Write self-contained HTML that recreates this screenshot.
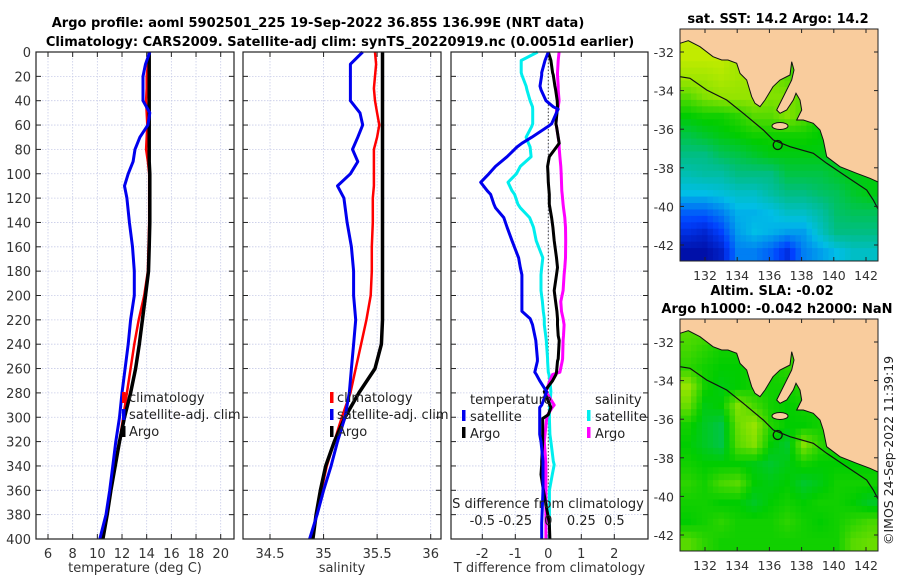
<!DOCTYPE html>
<html><head><meta charset="utf-8"><style>
body{margin:0;background:#fff;width:900px;height:580px;overflow:hidden;font-family:"DejaVu Sans","Liberation Sans",sans-serif}
svg text{font-family:"DejaVu Sans","Liberation Sans",sans-serif}
</style></head><body>
<svg id="fig" width="900" height="580" xmlns="http://www.w3.org/2000/svg">
<text x="318" y="27" text-anchor="middle" font-size="13" font-weight="bold">Argo profile: aoml 5902501_225 19-Sep-2022 36.85S 136.99E (NRT data)</text>
<text x="340" y="46" text-anchor="middle" font-size="13" font-weight="bold">Climatology: CARS2009. Satellite-adj clim: synTS_20220919.nc (0.0051d earlier)</text>
<text x="778" y="23" text-anchor="middle" font-size="13" font-weight="bold">sat. SST: 14.2 Argo: 14.2</text>
<text x="772" y="295" text-anchor="middle" font-size="13" font-weight="bold">Altim. SLA: -0.02</text>
<text x="777" y="313" text-anchor="middle" font-size="13" font-weight="bold">Argo h1000: -0.042 h2000: NaN</text>
<text transform="translate(893,545) rotate(-90)" font-size="12.5" fill="#222">©IMOS 24-Sep-2022 11:39:19</text>
</svg>
<script>
const depths=[0,10,20,30,40,50,60,70,80,90,100,110,120,140,160,180,200,220,240,260,280,300,320,340,360,380,400];
const tArgo=[14.2,14.2,14.2,14.2,14.2,14.2,14.2,14.2,14.2,14.2,14.25,14.25,14.25,14.25,14.2,14.15,13.9,13.65,13.4,13.1,12.7,12.2,11.8,11.45,11.1,10.8,10.45];
const tClim=[14.2,14.1,14.0,14.0,13.95,14.0,14.05,14.0,13.95,14.1,14.2,14.2,14.2,14.2,14.15,14.1,13.8,13.35,13.0,12.7,12.4,12.1,11.8,11.45,11.1,10.8,10.4];
const tSat=[14.25,13.9,13.7,13.7,13.7,14.25,14.1,13.45,13.05,12.9,12.5,12.2,12.4,12.6,12.85,13.0,13.0,12.7,12.5,12.25,12.0,11.8,11.5,11.25,11.0,10.7,10.2];
const sArgo=[35.55,35.55,35.55,35.55,35.55,35.55,35.55,35.55,35.55,35.55,35.55,35.55,35.55,35.55,35.55,35.55,35.55,35.55,35.54,35.48,35.33,35.2,35.1,35.02,34.97,34.93,34.9];
const sClim=[35.48,35.49,35.48,35.47,35.48,35.5,35.52,35.5,35.47,35.47,35.47,35.47,35.46,35.46,35.45,35.45,35.44,35.4,35.35,35.3,35.25,35.17,35.1,35.03,34.98,34.93,34.9];
const sSat=[35.365,35.25,35.25,35.25,35.25,35.34,35.365,35.32,35.27,35.32,35.25,35.13,35.19,35.22,35.26,35.28,35.28,35.3,35.28,35.26,35.24,35.2,35.13,35.07,35.0,34.94,34.87];
const dDepths=[0,7,17,19,28,31,40,45,47,48,59,61,70,75,78,86,94,100,107,114,117,125,128,136,144,155,169,177,183,196,205,213,219,224,233,237,252,254,263,265,270,279,290,292,298,301,314,320,336,339,347,360,387,400];
const dTSat=[0.0,-0.1,-0.2,-0.2,-0.25,-0.22,-0.07,0.15,0.3,0.28,0.1,0.0,-0.5,-0.8,-0.95,-1.25,-1.6,-1.8,-2.05,-1.85,-1.75,-1.65,-1.6,-1.35,-1.25,-1.1,-0.9,-0.85,-0.8,-0.8,-0.8,-0.8,-0.55,-0.48,-0.41,-0.38,-0.33,-0.33,-0.41,-0.36,-0.26,-0.05,-0.2,-0.26,-0.26,-0.26,-0.26,-0.22,-0.16,-0.16,-0.16,-0.16,-0.2,-0.2];
// salinity differences (psu)
const dSSat=[-0.08,-0.205,-0.205,-0.2,-0.168,-0.162,-0.138,-0.12,-0.118,-0.118,-0.118,-0.125,-0.168,-0.15,-0.138,-0.13,-0.212,-0.242,-0.305,-0.275,-0.255,-0.23,-0.212,-0.142,-0.112,-0.092,-0.042,-0.05,-0.055,-0.055,-0.045,-0.038,-0.03,-0.03,-0.02,-0.015,-0.005,-0.005,0.0,0.005,0.012,0.02,0.012,0.01,0.008,0.008,0.012,0.02,0.038,0.045,0.03,0.008,0.008,0.008];
const dTArgo=[0.0,0.08,0.13,0.15,0.2,0.22,0.27,0.28,0.28,0.27,0.23,0.25,0.3,0.33,0.25,0.03,-0.02,-0.01,0.0,0.02,0.03,0.03,0.05,0.1,0.14,0.18,0.25,0.28,0.25,0.18,0.22,0.26,0.28,0.28,0.3,0.33,0.3,0.28,0.25,0.23,0.13,-0.12,0.05,0.08,0.0,-0.17,-0.17,-0.17,-0.2,-0.2,-0.22,-0.15,0.03,0.05];
const dSArgo=[0.082,0.075,0.07,0.07,0.075,0.075,0.082,0.075,0.065,0.062,0.058,0.062,0.075,0.082,0.082,0.088,0.095,0.098,0.1,0.102,0.105,0.112,0.115,0.125,0.13,0.132,0.13,0.125,0.12,0.112,0.095,0.1,0.112,0.12,0.115,0.112,0.108,0.105,0.088,0.032,0.012,-0.018,0.045,0.03,-0.005,-0.012,-0.025,-0.03,-0.02,-0.018,-0.018,-0.018,-0.018,-0.018];
const tTicks=[6,8,10,12,14,16,18,20];
const sTicks=[34.5,35,35.5,36];
const dTicks=[-2,-1,0,1,2];
const dSTicks=[-0.5,-0.25,0,0.25,0.5];
const depthTicks=[0,20,40,60,80,100,120,140,160,180,200,220,240,260,280,300,320,340,360,380,400];
const lonTicks=[132,134,136,138,140,142];
const latTicks=[-32,-34,-36,-38,-40,-42];
const sstGrid=[
[.95,.95,.9,.9,.85,.8,.8,.8,.8,.8,.8,.8],
[.95,.95,.95,.9,.85,.8,.75,.8,.8,.8,.8,.8],
[.9,.9,.92,.9,.88,.85,.8,.75,.75,.8,.8,.8],
[.8,.85,.88,.88,.88,.85,.85,.8,.75,.75,.75,.75],
[.7,.72,.72,.75,.8,.8,.85,.8,.72,.72,.72,.72],
[.62,.65,.68,.7,.72,.72,.72,.72,.7,.7,.7,.7],
[.55,.55,.6,.62,.65,.68,.68,.68,.68,.68,.7,.7],
[.48,.5,.5,.55,.55,.55,.62,.62,.62,.65,.68,.68],
[.4,.4,.42,.45,.45,.5,.55,.55,.58,.6,.65,.68],
[.25,.25,.3,.38,.38,.4,.45,.45,.5,.58,.6,.6],
[.15,.12,.2,.35,.4,.38,.35,.35,.45,.55,.55,.55],
[.05,.05,.1,.3,.3,.25,.15,.3,.35,.4,.45,.45]];
const slaGrid=[
[.8,.8,.78,.75,.75,.75,.75,.75,.75,.75,.75,.75],
[.78,.75,.72,.72,.72,.75,.75,.78,.78,.75,.75,.75],
[.75,.72,.7,.7,.72,.72,.75,.78,.8,.78,.75,.75],
[.88,.72,.68,.7,.72,.72,.72,.75,.75,.75,.75,.75],
[.82,.68,.7,.85,.78,.72,.7,.72,.72,.72,.72,.72],
[.72,.66,.62,.82,.88,.74,.7,.7,.72,.72,.72,.72],
[.7,.66,.62,.8,.85,.7,.65,.85,.75,.72,.72,.72],
[.72,.7,.7,.7,.68,.65,.68,.72,.7,.7,.7,.7],
[.75,.72,.78,.8,.7,.68,.7,.65,.68,.72,.72,.72],
[.72,.72,.7,.7,.66,.7,.72,.7,.72,.72,.7,.66],
[.7,.72,.75,.72,.72,.72,.75,.72,.7,.72,.75,.78],
[.8,.75,.72,.72,.72,.72,.72,.72,.72,.72,.8,.82]];

const NS='http://www.w3.org/2000/svg';
const svg=document.getElementById('fig');
function mk(tag,attrs,parent){const e=document.createElementNS(NS,tag);for(const k in attrs)e.setAttribute(k,attrs[k]);(parent||svg).appendChild(e);return e;}
const Y0=52,Y1=539;
const yD=d=>Y0+(d/400)*(Y1-Y0);
function lin(d0,d1,r0,r1){return v=>r0+(v-d0)/(d1-d0)*(r1-r0);}
const xT=lin(6,20,48,220.7), xS=lin(34.5,36,270,430.7), xD=lin(-2,2,482.3,614.3);
const xDS=v=>xD(v*4);

function panel(name,x0,x1,ticks,xf,fmt,xlabel){
  const g=mk('g',{});
  
  
  depthTicks.forEach(d=>{const l=mk('line',{x1:x0,x2:x1,y1:yD(d),y2:yD(d),stroke:'#c8cce8','stroke-width':0.8,'stroke-dasharray':'1.5,1.5'},g);
    mk('line',{x1:x0,x2:x0+5,y1:yD(d),y2:yD(d),stroke:'#222'},g);mk('line',{x1:x1-5,x2:x1,y1:yD(d),y2:yD(d),stroke:'#222'},g);});
  ticks.forEach(t=>{const x=xf(t);const l=mk('line',{x1:x,x2:x,y1:Y0,y2:Y1,stroke:'#c8cce8','stroke-width':0.8,'stroke-dasharray':'1.5,1.5'},g);
    mk('line',{x1:x,x2:x,y1:Y1-5,y2:Y1,stroke:'#222'},g);mk('line',{x1:x,x2:x,y1:Y0,y2:Y0+5,stroke:'#222'},g);
    const tx=mk('text',{x:x,y:Y1+19,'text-anchor':'middle','font-size':13,fill:'#333'},g);tx.textContent=fmt(t);});
  const lab=mk('text',{x:(x0+x1)/2,y:Y1+33,'text-anchor':'middle','font-size':13,fill:'#333'},g);lab.textContent=xlabel;
  
  
  return g;
}
function frame(x0,x1){const r=mk('rect',{x:x0,y:Y0,width:x1-x0,height:Y1-Y0,fill:'none',stroke:'#222','stroke-width':1.2});}
function line(ds,vals,xf,color,w,name){
  const pts=ds.map((d,i)=>xf(vals[i]).toFixed(1)+','+yD(d).toFixed(1)).join(' ');
  const p=mk('polyline',{points:pts,fill:'none',stroke:color,'stroke-width':w,'stroke-linejoin':'round'});
  
  
}
function txt(x,y,s,name,anchor,size){const t=mk('text',{x:x,y:y,'font-size':size||13,fill:'#222','text-anchor':anchor||'start'});t.textContent=s;return t;}
function key(x,y,color,name){const r=mk('rect',{x:x,y:y-10,width:3.5,height:11,fill:color});}

depthTicks.forEach(d=>{const t=txt(31,yD(d)+5,String(d),'y-tick-label','end',13);t.setAttribute('fill','#333');});

panel('temperature-panel',36,234,tTicks,xT,String,'temperature (deg C)');
line(depths,tClim,xT,'#ff0000',2.5,'temp-climatology-line');
line(depths,tArgo,xT,'#000000',3.5,'temp-argo-line');
line(depths,tSat,xT,'#0000ee',3,'temp-satellite-adj-line');
frame(36,234);
key(122,402,'#ff0000','legend-key-climatology');txt(129,402,'climatology','legend-climatology');
key(122,419,'#0000ee','legend-key-satellite');txt(129,419,'satellite-adj. clim','legend-satellite-adj');
key(122,436,'#000000','legend-key-argo');txt(129,436,'Argo','legend-argo');

panel('salinity-panel',243,441,sTicks,xS,String,'salinity');
line(depths,sClim,xS,'#ff0000',2.5,'sal-climatology-line');
line(depths,sArgo,xS,'#000000',3.5,'sal-argo-line');
line(depths,sSat,xS,'#0000ee',3,'sal-satellite-adj-line');
frame(243,441);
key(330,402,'#ff0000','legend-key-climatology');txt(337,402,'climatology','legend-climatology');
key(330,419,'#0000ee','legend-key-satellite');txt(337,419,'satellite-adj. clim','legend-satellite-adj');
key(330,436,'#000000','legend-key-argo');txt(337,436,'Argo','legend-argo');

panel('difference-panel',451,648,dTicks,xD,String,'T difference from climatology');
const zl=mk('line',{x1:xD(0),x2:xD(0),y1:Y0,y2:Y1,stroke:'#444','stroke-width':1,'stroke-dasharray':'1.5,2'});

line(dDepths,dSSat,xDS,'#00eeee',3,'sdiff-satellite-line');
line(dDepths,dSArgo,xDS,'#ff00ff',3,'sdiff-argo-line');
line(dDepths,dTArgo,xD,'#000000',3,'tdiff-argo-line');
line(dDepths,dTSat,xD,'#0000ee',3,'tdiff-satellite-line');
frame(451,648);
txt(470,404,'temperature','legend-temperature-heading');
key(462,420,'#0000ee','legend-key-t-satellite');txt(470,421,'satellite','legend-t-satellite');
key(462,437,'#000000','legend-key-t-argo');txt(470,438,'Argo','legend-t-argo');
txt(595,404,'salinity','legend-salinity-heading');
key(587,420,'#00eeee','legend-key-s-satellite');txt(595,421,'satellite','legend-s-satellite');
key(587,437,'#ff00ff','legend-key-s-argo');txt(595,438,'Argo','legend-s-argo');
txt(548,508,'S difference from climatology','s-axis-title','middle');
dSTicks.forEach(t=>txt(xDS(t),525,String(t),'s-tick-label','middle'));

const MX0=680,MX1=878,MW=MX1-MX0,MH=232;
const lonX=lin(132,142,705,866);
const latY=lin(-32,-42,52,245);
function cmap(v){const st=[[0,[0,0,140]],[.2,[0,64,255]],[.4,[0,190,230]],[.55,[0,190,130]],[.7,[0,205,0]],[.85,[130,225,0]],[1,[225,240,0]]];
  for(let i=1;i<st.length;i++){if(v<=st[i][0]){const a=st[i-1],b=st[i],f=(v-a[0])/(b[0]-a[0]);return 'rgb('+a[1].map((c,j)=>Math.round(c+(b[1][j]-c)*f)).join(',')+')';}}return 'rgb(225,240,0)';}
const coast=[[0,14.3],[8.3,11.7],[20,17.7],[33,27.7],[41.7,31],[48,31],[56.7,34.3],[60,44.3],[66.7,51],[71.7,67.7],[75,74.3],[80,77.7],[85,71],[93,57.7],[100,51],[110,46],[111.7,32.7],[114,41],[111.7,51],[106.7,61],[101.7,71],[96.7,81],[100,84.3],[106.7,81],[113.3,71],[116,64.3],[120,71],[121.7,81],[116.7,91],[123.3,91],[133.3,94.3],[140,101],[143.3,111],[146.7,127.7],[160,137.7],[176.7,144.3],[190,149.3],[198,153],[198,0],[0,0]];
const bathy=[[0,47.7],[10,49.3],[26.7,61],[46.7,71],[63.3,84.3],[83.3,101],[93.3,111],[110,117.7],[133.3,124.3],[146.7,134.3],[166.7,147.7],[186.7,161],[193.3,171],[198,180]];
function sample(grid,fr,fc){const R=grid.length,C=grid[0].length;
  const r=Math.min(Math.max(fr-0.5,0),R-1),c=Math.min(Math.max(fc-0.5,0),C-1);
  const r0=Math.floor(r),c0=Math.floor(c),r1=Math.min(r0+1,R-1),c1=Math.min(c0+1,C-1),a=r-r0,b=c-c0;
  return grid[r0][c0]*(1-a)*(1-b)+grid[r0][c1]*(1-a)*b+grid[r1][c0]*a*(1-b)+grid[r1][c1]*a*b;}
function drawMap(name,top,grid){
  const g=mk('g',{});
  
  
  const dy=top-29;
  const rows=grid.length,cols=grid[0].length,sub=3,cw=MW/cols/sub,ch=MH/rows/sub;
  for(let r=0;r<rows*sub;r++)for(let c=0;c<cols*sub;c++){
    const v=sample(grid,(r+0.5)/sub,(c+0.5)/sub);
    const cell=mk('rect',{x:MX0+c*cw,y:top+r*ch,width:cw+0.5,height:ch+0.5,fill:cmap(v)},g);
    
    }
  const land=mk('polygon',{points:coast.map(p=>(MX0+p[0])+','+(top+p[1])).join(' '),fill:'#f9cc9d',stroke:'#111','stroke-width':1},g);
  
  const ki=mk('ellipse',{cx:MX0+100,cy:top+97,rx:8,ry:3.5,fill:'#f9cc9d',stroke:'#111','stroke-width':1},g);
  
  const b=mk('polyline',{points:bathy.map(p=>(MX0+p[0])+','+(top+p[1])).join(' '),fill:'none',stroke:'#111','stroke-width':1.2},g);
  
  const c=mk('circle',{cx:MX0+97.7,cy:top+116,r:4.5,fill:'none',stroke:'#111','stroke-width':1.3},g);
  
  mk('rect',{x:MX0,y:top,width:MW,height:MH,fill:'none',stroke:'#222','stroke-width':1},g);
  lonTicks.forEach(l=>{const x=lonX(l);mk('line',{x1:x,x2:x,y1:top+MH,y2:top+MH-4,stroke:'#222'},g);mk('line',{x1:x,x2:x,y1:top,y2:top+4,stroke:'#222'},g);
    const t=mk('text',{x:x,y:top+MH+19,'text-anchor':'middle','font-size':12.5,fill:'#333'},g);t.textContent=String(l);});
  latTicks.forEach(l=>{const y=latY(l)+dy;mk('line',{x1:MX0,x2:MX0+4,y1:y,y2:y,stroke:'#222'},g);mk('line',{x1:MX1-4,x2:MX1,y1:y,y2:y,stroke:'#222'},g);
    const t=mk('text',{x:MX0-6,y:y+5,'text-anchor':'end','font-size':12.5,fill:'#333'},g);t.textContent=String(l);});
}
drawMap('sst-map',29,sstGrid);
drawMap('sla-map',319,slaGrid);
</script>
</body></html>
